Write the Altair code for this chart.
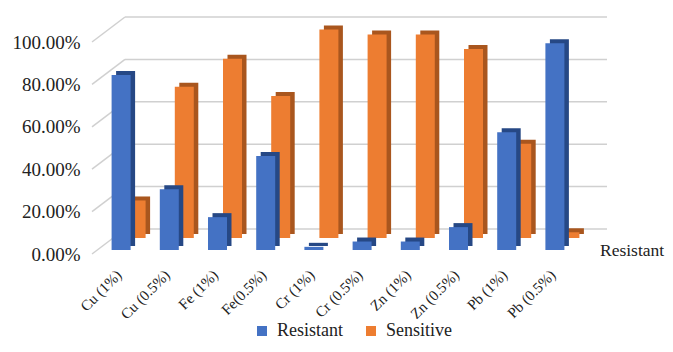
import altair as alt
import pandas as pd

categories = ["Cu (1%)", "Cu (0.5%)", "Fe (1%)", "Fe(0.5%)", "Cr (1%)",
              "Cr (0.5%)", "Zn (1%)", "Zn (0.5%)", "Pb (1%)", "Pb (0.5%)"]
resistant = [0.825, 0.286, 0.155, 0.443, 0.015, 0.04, 0.04, 0.108, 0.555, 0.975]
sensitive = [0.177, 0.714, 0.846, 0.67, 0.983, 0.96, 0.96, 0.892, 0.445, 0.027]
series = ["Resistant", "Sensitive"]
ticks = [0, 0.2, 0.4, 0.6, 0.8, 1.0]
depth_label = ["Resistant"]

df_r = pd.DataFrame({"cat": categories, "value": resistant, "series": series[0]})
df_s = pd.DataFrame({"cat": categories, "value": sensitive, "series": series[1]})
df_t = pd.DataFrame({"value": ticks})
df_lab = pd.DataFrame({"t": depth_label})

FRONT = ["#4472C4", "#ED7D31"]
DARK = ["#264885", "#A9561E"]
SERIF = "Liberation Serif"
GRID = "#D0D0D0"

xaxis = alt.Axis(title=None, labelAngle=-45, labelFont=SERIF, labelFontSize=15,
                 labelColor="#222222", domain=False, ticks=False, labelPadding=18,
                 labelOffset=-2, labelAlign="right", labelBaseline="middle")
yaxis = alt.Axis(title=None, values=ticks, format=".2%", labelFont=SERIF,
                 labelFontSize=19, labelColor="#222222", domain=False, ticks=False,
                 grid=False, labelPadding=17)

X = alt.X("cat:N", sort=categories, scale=alt.Scale(paddingInner=0, paddingOuter=0), axis=xaxis)
Y = alt.Y("value:Q", scale=alt.Scale(domain=[0, 1]), axis=yaxis)
color = alt.Color("series:N", scale=alt.Scale(domain=series, range=FRONT),
                  legend=alt.Legend(title=None, orient="none", legendX=156, legendY=280,
                                    direction="horizontal", symbolType="square",
                                    symbolSize=100, symbolStrokeWidth=0,
                                    labelFont=SERIF, labelFontSize=18, labelColor="#222222",
                                    columnPadding=19, labelOffset=6))

grid = alt.Chart(df_t).mark_rule(color=GRID, strokeWidth=1.5, yOffset=-25).encode(
    y=Y, x=alt.value(28), x2=alt.value(510))
diag = alt.Chart(df_t).mark_rule(color=GRID, strokeWidth=1.5, y2Offset=-25).encode(
    y=Y, y2=alt.Y2("value:Q"), x=alt.value(-5), x2=alt.value(28))

s_dark = alt.Chart(df_s).mark_bar(width=19, color=DARK[1], xOffset=19.5,
                                  yOffset=-20, y2Offset=-20).encode(x=X, y=Y)
s_front = alt.Chart(df_s).mark_bar(width=19, xOffset=15, yOffset=-16,
                                   y2Offset=-16).encode(x=X, y=Y, color=color)
r_dark = alt.Chart(df_r).mark_bar(width=19, color=DARK[0], xOffset=4.5,
                                  yOffset=-8, y2Offset=-8).encode(x=X, y=Y)
r_front = alt.Chart(df_r).mark_bar(width=19, xOffset=0, yOffset=-4,
                                   y2Offset=-4).encode(x=X, y=Y, color=color)

lab = alt.Chart(df_lab).mark_text(align="left", baseline="middle", font=SERIF,
                                  fontSize=17.5, color="#222222").encode(
    x=alt.value(503), y=alt.value(209), text="t:N")

chart = alt.layer(grid, diag, s_dark, s_front, r_dark, r_front, lab).properties(
    width=482, height=212,
    padding={"left": 89, "top": 34, "right": 86, "bottom": 90},
    autosize=alt.AutoSizeParams(type="none"),
    background="white",
).configure_view(stroke=None)

chart.save("out.html", embed_options={"renderer": "svg", "actions": False})
